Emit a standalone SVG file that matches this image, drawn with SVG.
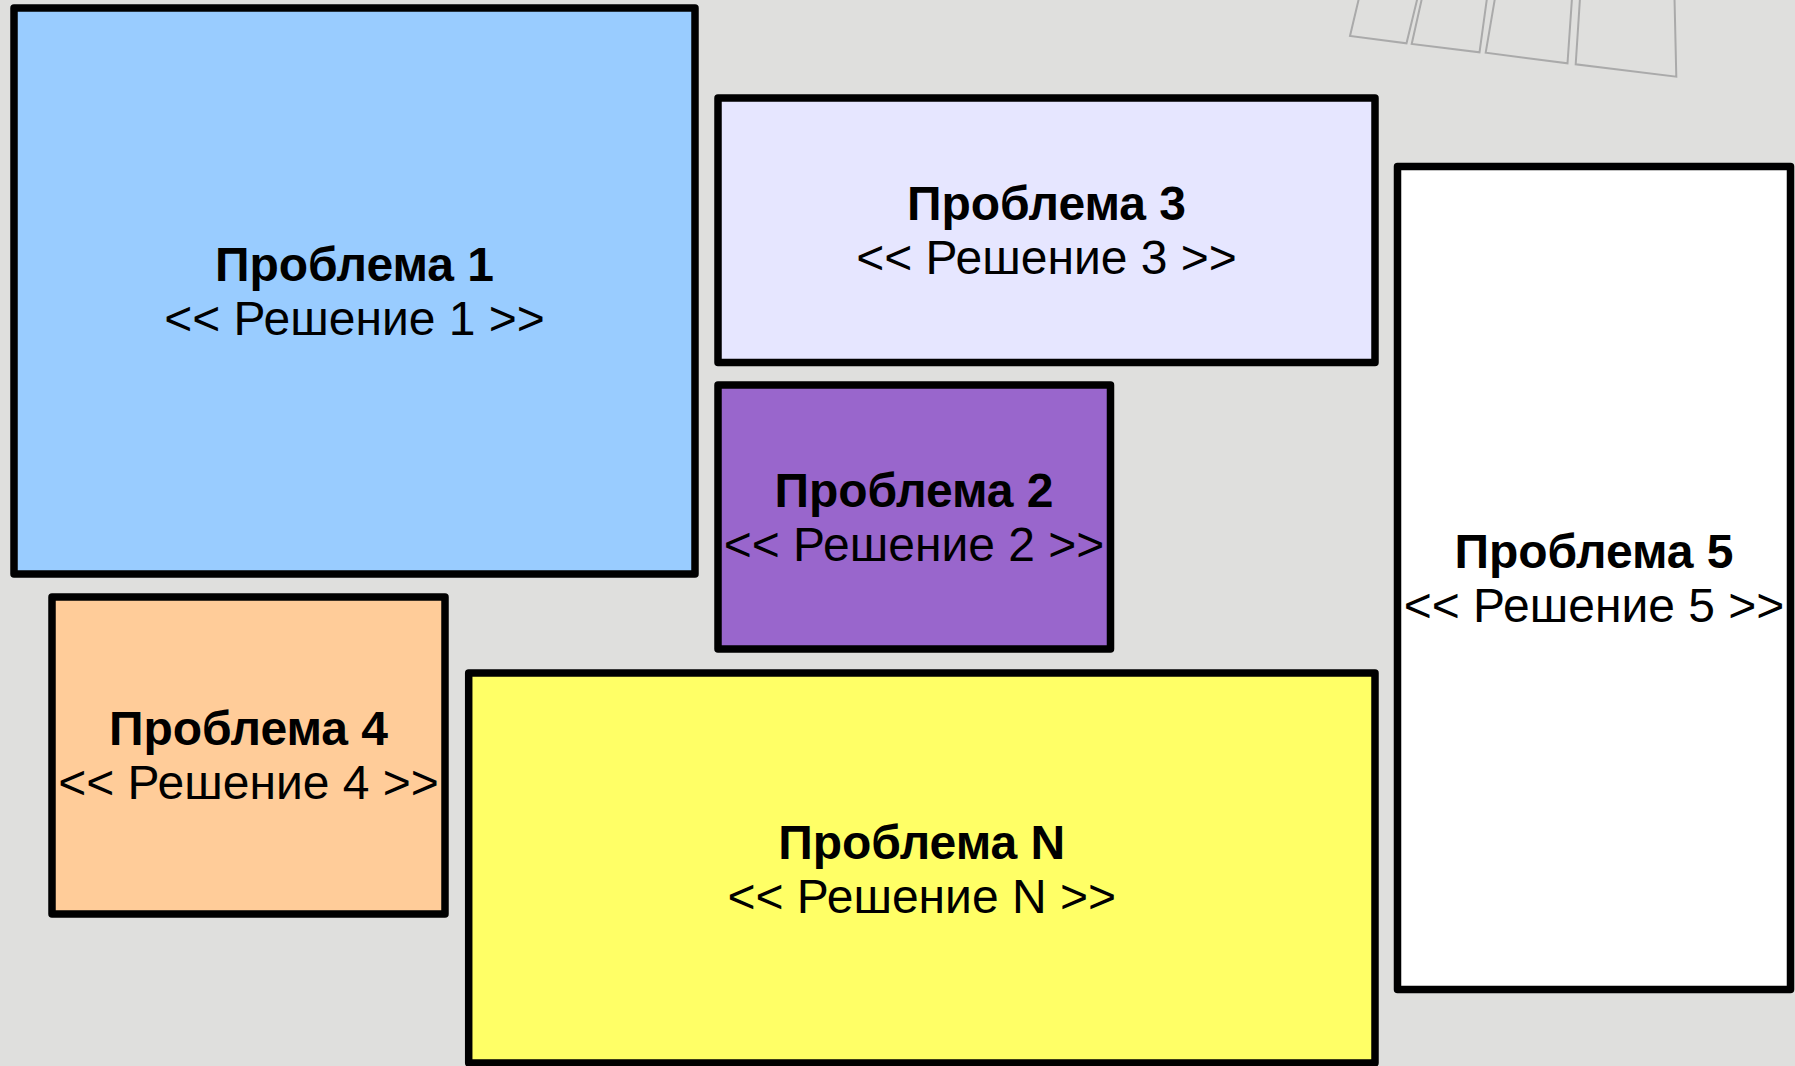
<svg xmlns="http://www.w3.org/2000/svg" width="1795" height="1066" viewBox="0 0 1795 1066">
<style>
.box{stroke:#000;stroke-width:7.5;stroke-linejoin:round}
.t1{font-family:"Liberation Sans",Arial,sans-serif;font-weight:bold;font-size:48px;text-anchor:middle;fill:#000}
.t2{font-family:"Liberation Sans",Arial,sans-serif;font-size:48px;text-anchor:middle;fill:#000}
.card{fill:none;stroke:#aaaaaa;stroke-width:2}
</style>
<rect x="0" y="0" width="1795" height="1066" fill="#dfdfdd"/>
<g id="decor">
<polyline class="card" points="1359,-2 1350,36 1406.5,43.3 1417.5,-2"/>
<polyline class="card" points="1422,-2 1411.7,44 1479.5,52.3 1487,-2"/>
<polyline class="card" points="1495,-2 1485.7,52.7 1567.5,63.3 1572,-2"/>
<polyline class="card" points="1580,-2 1575.7,64.3 1676.3,76.7 1674.5,-2"/>
</g>
<g id="connectors"></g>
<g id="p1">
<rect class="box" x="14" y="8" width="681" height="566" fill="#99ccff"/>
<text class="t1" x="354.5" y="281">Проблема 1</text>
<text class="t2" x="354.5" y="335">&lt;&lt; Решение 1 &gt;&gt;</text>
</g>
<g id="p3">
<rect class="box" x="718" y="98" width="657" height="264.5" fill="#e6e6ff"/>
<text class="t1" x="1046.5" y="220">Проблема 3</text>
<text class="t2" x="1046.5" y="274">&lt;&lt; Решение 3 &gt;&gt;</text>
</g>
<g id="p2">
<rect class="box" x="718" y="385" width="392.5" height="264" fill="#9966cc"/>
<text class="t1" x="914" y="506.5">Проблема 2</text>
<text class="t2" x="914" y="561">&lt;&lt; Решение 2 &gt;&gt;</text>
</g>
<g id="p4">
<rect class="box" x="52" y="597" width="393" height="317" fill="#ffcc99"/>
<text class="t1" x="248.5" y="745">Проблема 4</text>
<text class="t2" x="248.5" y="799">&lt;&lt; Решение 4 &gt;&gt;</text>
</g>
<g id="p5">
<rect class="box" x="1397.5" y="166.5" width="393" height="823" fill="#ffffff"/>
<text class="t1" x="1594" y="568">Проблема 5</text>
<text class="t2" x="1594" y="622">&lt;&lt; Решение 5 &gt;&gt;</text>
</g>
<g id="pN">
<rect class="box" x="468.7" y="673" width="906.3" height="390" fill="#ffff66"/>
<text class="t1" x="921.7" y="859">Проблема N</text>
<text class="t2" x="921.7" y="913">&lt;&lt; Решение N &gt;&gt;</text>
</g>
</svg>
